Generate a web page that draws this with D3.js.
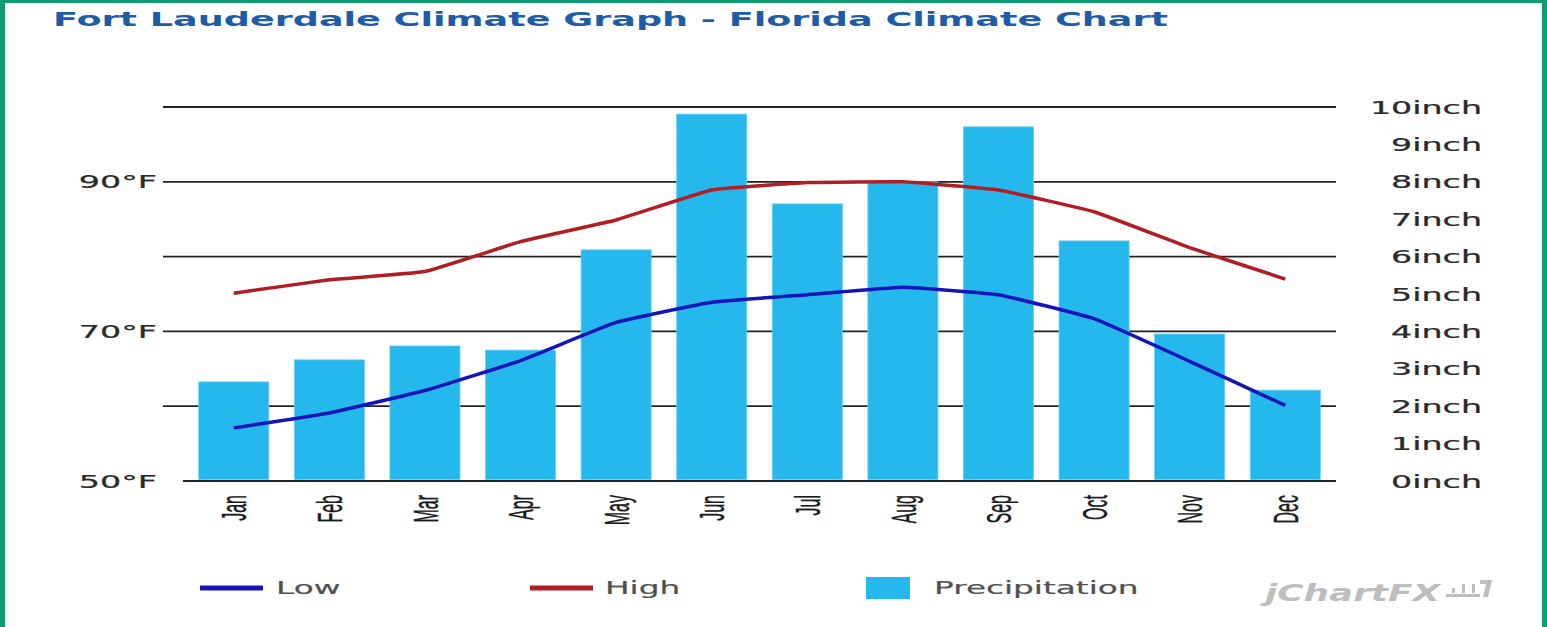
<!DOCTYPE html>
<html>
<head>
<meta charset="utf-8">
<script src="https://cdn.jsdelivr.net/npm/d3@7"></script>
<style>
  html, body { margin: 0; padding: 0; background: #fff; }
  svg { display: block; }
</style>
</head>
<body>
<div id="chart"></div>
<script>
// chart values
var months = ['Jan','Feb','Mar','Apr','May','Jun','Jul','Aug','Sep','Oct','Nov','Dec'];
var low_temp  = [57.1, 59.1, 62.1, 66.1, 71.2, 73.9, 74.9, 75.9, 74.9, 71.7, 66.0, 60.1];
var high_temp = [75.1, 76.9, 78.0, 82.0, 84.9, 88.9, 89.9, 90.0, 88.9, 86.0, 81.2, 77.0];
var precip    = [2.65, 3.24, 3.61, 3.50, 6.18, 9.81, 7.41, 8.00, 9.47, 6.42, 3.93, 2.43];
var temp_ticks = [50, 70, 90];
var inch_ticks = [0,1,2,3,4,5,6,7,8,9,10];
var grid_ticks = [2,4,6,8,10];

var bar_colour = '#25b8ec';
var low_colour = '#1414b8';
var high_colour = '#b01e24';
var stretch = 1.8;

var W = 1547, H = 627;
var svg = d3.select('#chart').append('svg')
    .attr('width', W)
    .attr('height', H);

// frame
svg.append('rect').attr('x',0).attr('y',0).attr('width',5).attr('height',H).attr('fill','#0f9c75');
svg.append('rect').attr('x',0).attr('y',0).attr('width',W).attr('height',3).attr('fill','#0f9c75');
svg.append('rect').attr('x',1542).attr('y',0).attr('width',5).attr('height',H).attr('fill','#0f9c75');

// title
svg.append('text')
    .attr('x', 53).attr('y', 26)
    .attr('font-family', 'DejaVu Sans')
    .attr('font-weight', 'bold')
    .attr('font-size', 19)
    .attr('fill', '#1d5ca6')
    .attr('textLength', 1115)
    .attr('lengthAdjust', 'spacingAndGlyphs')
    .text('Fort Lauderdale Climate Graph - Florida Climate Chart');

var x = d3.scaleBand()
    .domain(months)
    .range([186, 1333])
    .paddingInner(0.267)
    .paddingOuter(0.133);

var yP = d3.scaleLinear().domain([0,10]).range([481,107]);
var yT = d3.scaleLinear().domain([50,100]).range([481,107]);

// grid
svg.append('g')
    .selectAll('line')
    .data(grid_ticks)
    .enter()
    .append('line')
        .attr('x1', 163).attr('x2', 1336)
        .attr('y1', d => yP(d)).attr('y2', d => yP(d))
        .attr('stroke', '#222')
        .attr('stroke-width', 1.8);

svg.append('line')
    .attr('x1', 183).attr('x2', 1336)
    .attr('y1', yP(0)).attr('y2', yP(0))
    .attr('stroke', '#222')
    .attr('stroke-width', 2);

// bars
svg.selectAll('.bar')
    .data(precip)
    .enter()
    .append('rect')
        .attr('class','bar')
        .attr('x', (d,i) => x(months[i]))
        .attr('y', d => yP(d))
        .attr('width', x.bandwidth())
        .attr('height', d => yP(0) - yP(d) - 1.5)
        .attr('fill', bar_colour)
        .attr('stroke', '#6ccdf2')
        .attr('stroke-width', 0.8);

// lines
var line_t = d3.line()
    .x((d,i) => x(months[i]) + x.bandwidth()/2)
    .y(d => yT(d))
    .curve(d3.curveCardinal.tension(0.7));

svg.append('path')
    .datum(high_temp)
    .attr('d', line_t)
    .attr('fill', 'none')
    .attr('stroke', high_colour)
    .attr('stroke-width', 3.5);

svg.append('path')
    .datum(low_temp)
    .attr('d', line_t)
    .attr('fill', 'none')
    .attr('stroke', low_colour)
    .attr('stroke-width', 3.5);

// left axis labels
svg.append('g')
    .selectAll('text')
    .data(temp_ticks)
    .enter()
    .append('text')
        .attr('transform', d => `translate(157,${yT(d)}) scale(${stretch},1)`)
        .attr('dy', '0.36em')
        .attr('text-anchor', 'end')
        .attr('font-family', 'DejaVu Sans')
        .attr('font-size', 18.5)
        .attr('fill', '#2a2a2a')
        .attr('stroke', '#2a2a2a')
        .attr('stroke-width', 0.25)
        .text(d => d + '°F');

// right axis labels
svg.append('g')
    .selectAll('text')
    .data(inch_ticks)
    .enter()
    .append('text')
        .attr('transform', d => `translate(1482,${yP(d)}) scale(${stretch},1)`)
        .attr('dy', '0.36em')
        .attr('text-anchor', 'end')
        .attr('font-family', 'DejaVu Sans')
        .attr('font-size', 18.5)
        .attr('fill', '#2a2a2a')
        .attr('stroke', '#2a2a2a')
        .attr('stroke-width', 0.25)
        .text(d => d + 'inch');

// month labels
svg.append('g')
    .selectAll('text')
    .data(months)
    .enter()
    .append('text')
        .attr('transform', d => `translate(${x(d) + x.bandwidth()/2},495) scale(2.2,1) rotate(-90)`)
        .attr('dy', '0.36em')
        .attr('text-anchor', 'end')
        .attr('font-family', 'Liberation Sans')
        .attr('font-size', 16)
        .attr('fill', '#1a1a1a')
        .attr('stroke', '#1a1a1a')
        .attr('stroke-width', 0.2)
        .text(d => d);

// legend
var legend = svg.append('g');
legend.append('line').attr('x1',200).attr('x2',263).attr('y1',588).attr('y2',588)
    .attr('stroke', low_colour).attr('stroke-width', 5);
legend.append('line').attr('x1',530).attr('x2',593).attr('y1',588).attr('y2',588)
    .attr('stroke', high_colour).attr('stroke-width', 5);
legend.append('rect').attr('x',866).attr('y',577).attr('width',44).attr('height',22)
    .attr('fill', bar_colour);

var legend_items = [['Low',276],['High',605],['Precipitation',934]];
legend.selectAll('text')
    .data(legend_items)
    .enter()
    .append('text')
        .attr('transform', d => `translate(${d[1]},588) scale(1.87,1)`)
        .attr('dy', '0.36em')
        .attr('font-family', 'DejaVu Sans')
        .attr('font-size', 17.5)
        .attr('fill', '#505050')
        .attr('stroke', '#505050')
        .attr('stroke-width', 0.2)
        .text(d => d[0]);

// jChartFX mark
var logo = svg.append('g').attr('fill', '#bdbdbd');
logo.append('text')
    .attr('x', 1265).attr('y', 601)
    .attr('font-family', 'DejaVu Sans')
    .attr('font-style', 'italic')
    .attr('font-weight', 'bold')
    .attr('font-size', 23)
    .attr('textLength', 175)
    .attr('lengthAdjust', 'spacingAndGlyphs')
    .text('jChartFX');
logo.append('rect').attr('x',1446).attr('y',594).attr('width',34).attr('height',3);
logo.append('rect').attr('x',1452).attr('y',588).attr('width',3).attr('height',5);
logo.append('rect').attr('x',1462).attr('y',584).attr('width',3).attr('height',9);
logo.append('rect').attr('x',1472).attr('y',584).attr('width',3).attr('height',9);
logo.append('path').attr('d','M1480,580 L1492,580 L1488,597 L1483,597 L1486,584 L1480,584 Z');
</script>
</body>
</html>
